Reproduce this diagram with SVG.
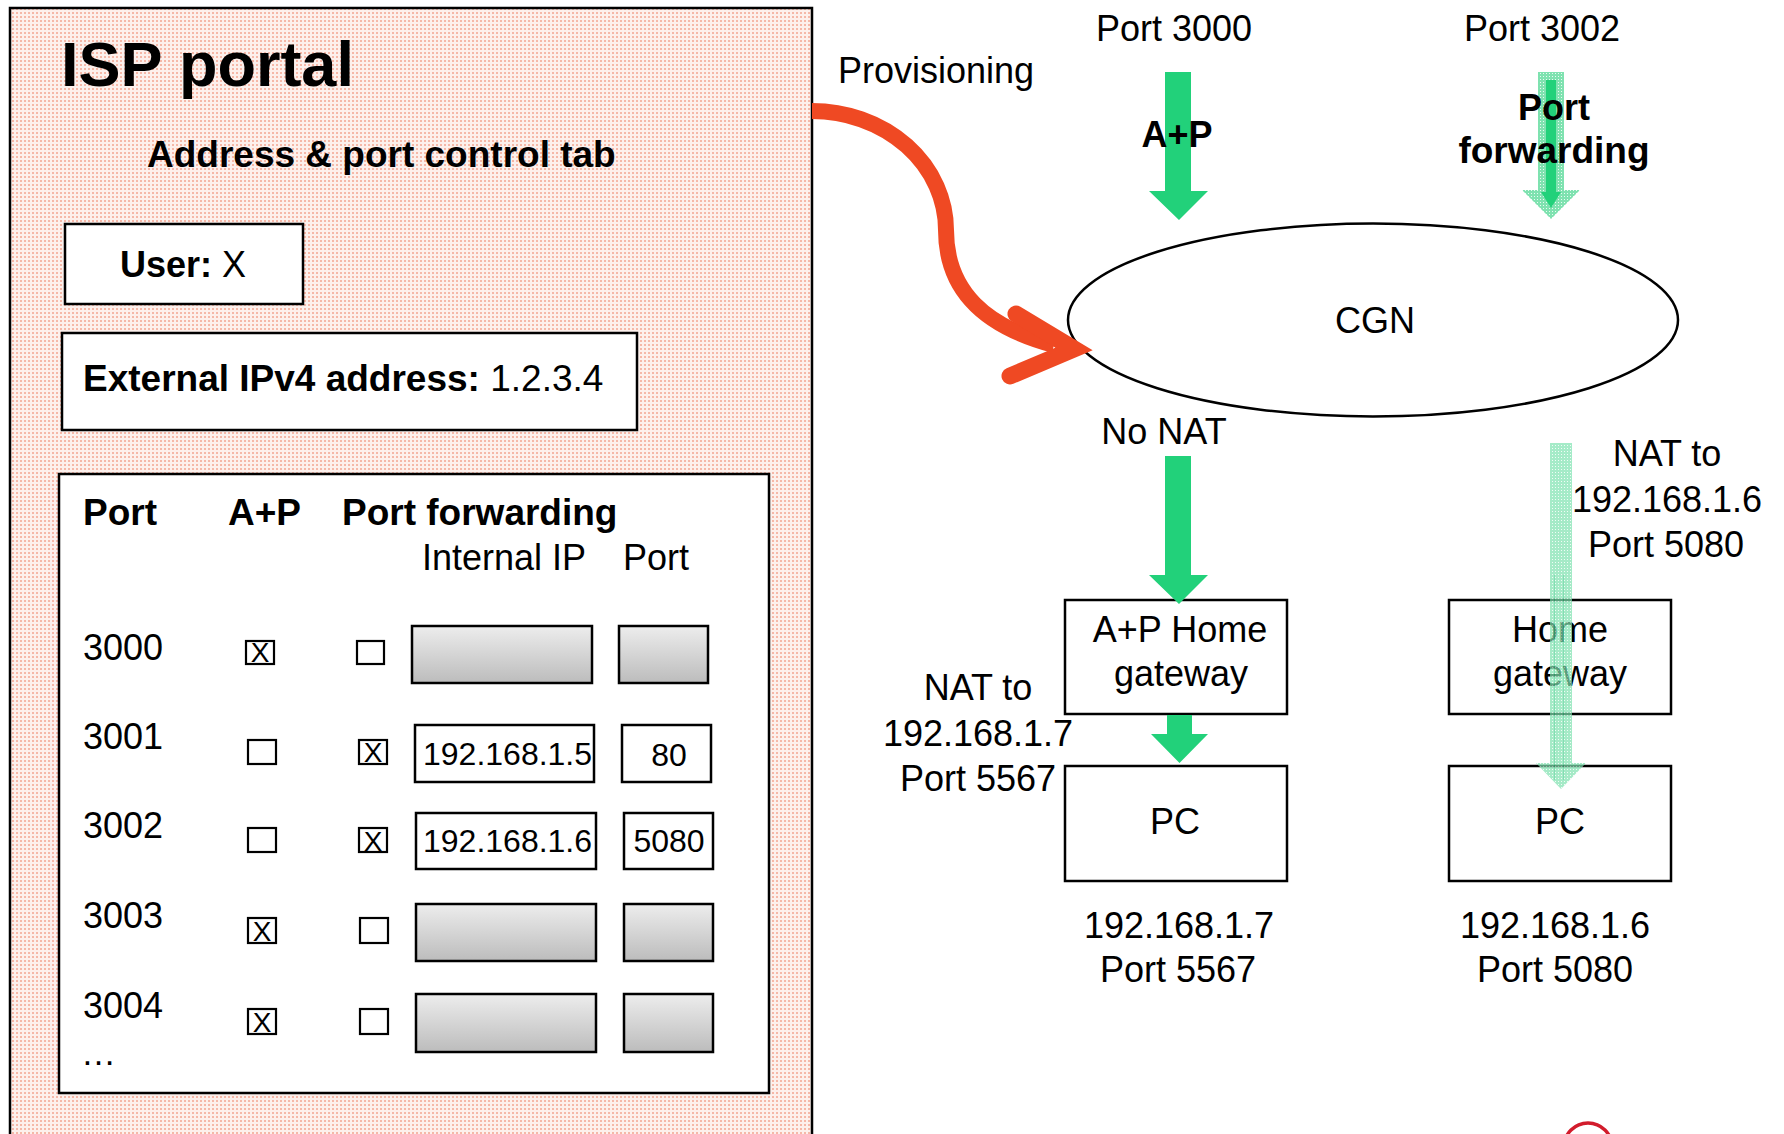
<svg xmlns="http://www.w3.org/2000/svg" width="1784" height="1134" viewBox="0 0 1784 1134">
<style>
  text { font-family: "Liberation Sans", Arial, sans-serif; fill: #000; }
  .b { font-weight: bold; }
  .t36 { font-size: 36px; }
  .t37 { font-size: 37px; }
  .val { font-size: 32px; }
  .mid { text-anchor: middle; }
  .box { fill: #fff; stroke: #000; stroke-width: 2.5; }
  .cb { fill: #fff; stroke: #000; stroke-width: 2.2; }
  .cbx { font-size: 28px; text-anchor: middle; }
  .inp { fill: url(#grayGrad); stroke: #000; stroke-width: 2.5; }
  .green { fill: #22D17A; }
  .pale { fill: url(#paleGreen); }
</style>
<defs>
  <pattern id="pinkDots" width="4" height="4" patternUnits="userSpaceOnUse">
    <rect width="4" height="4" fill="#fdf0ec"/>
    <rect width="2" height="2" fill="#f5b8a8"/>
  </pattern>
  <pattern id="paleGreen" width="3" height="3" patternUnits="userSpaceOnUse">
    <rect width="3" height="3" fill="#7fe2b0"/>
    <rect x="1" y="1" width="1" height="1" fill="#e9fbf2"/>
  </pattern>
  <linearGradient id="grayGrad" x1="0" y1="0" x2="0" y2="1">
    <stop offset="0" stop-color="#ededed"/>
    <stop offset="1" stop-color="#bcbcbc"/>
  </linearGradient>
</defs>

<rect width="1784" height="1134" fill="#fff"/>

<!-- ISP portal panel -->
<g id="portal">
  <rect x="10" y="8" width="802" height="1140" fill="url(#pinkDots)" stroke="#000" stroke-width="2.5"/>
  <text x="61" y="86" class="b" font-size="63">ISP portal</text>
  <text x="147" y="167" class="b t37">Address &amp; port control tab</text>
</g>

<g id="user-box">
  <rect x="65" y="224" width="238" height="80" class="box"/>
  <text x="120" y="277" class="t36"><tspan class="b">User:</tspan> X</text>
</g>

<g id="ext-ip-box">
  <rect x="62" y="333" width="575" height="97" class="box"/>
  <text x="83" y="391" class="t37"><tspan class="b">External IPv4 address:</tspan> 1.2.3.4</text>
</g>

<g id="port-table">
  <rect x="59" y="474" width="710" height="619" class="box"/>
  <text x="83" y="525" class="b t37">Port</text>
  <text x="228" y="525" class="b t37">A+P</text>
  <text x="342" y="525" class="b t37">Port forwarding</text>
  <text x="422" y="570" class="t36">Internal IP</text>
  <text x="623" y="570" class="t36">Port</text>

  <g id="row-3000">
    <text x="83" y="660" class="t36">3000</text>
    <rect x="246" y="641" width="28" height="23" class="cb"/>
    <text x="260" y="662" class="cbx">X</text>
    <rect x="357" y="641" width="27" height="23" class="cb"/>
    <rect x="412" y="626" width="180" height="57" class="inp"/>
    <rect x="619" y="626" width="89" height="57" class="inp"/>
  </g>
  <g id="row-3001">
    <text x="83" y="749" class="t36">3001</text>
    <rect x="248" y="740" width="28" height="24" class="cb"/>
    <rect x="359" y="740" width="28" height="24" class="cb"/>
    <text x="373" y="762" class="cbx">X</text>
    <rect x="415" y="725" width="179" height="57" class="box"/>
    <text x="423" y="765" class="val">192.168.1.5</text>
    <rect x="622" y="725" width="89" height="57" class="box"/>
    <text x="669" y="766" class="val mid">80</text>
  </g>
  <g id="row-3002">
    <text x="83" y="838" class="t36">3002</text>
    <rect x="248" y="828" width="28" height="24" class="cb"/>
    <rect x="359" y="828" width="28" height="24" class="cb"/>
    <text x="373" y="851" class="cbx">X</text>
    <rect x="416" y="813" width="180" height="56" class="box"/>
    <text x="423" y="852" class="val">192.168.1.6</text>
    <rect x="624" y="813" width="89" height="56" class="box"/>
    <text x="669" y="852" class="val mid">5080</text>
  </g>
  <g id="row-3003">
    <text x="83" y="928" class="t36">3003</text>
    <rect x="248" y="918" width="28" height="25" class="cb"/>
    <text x="262" y="941" class="cbx">X</text>
    <rect x="360" y="918" width="28" height="25" class="cb"/>
    <rect x="416" y="904" width="180" height="57" class="inp"/>
    <rect x="624" y="904" width="89" height="57" class="inp"/>
  </g>
  <g id="row-3004">
    <text x="83" y="1018" class="t36">3004</text>
    <rect x="248" y="1009" width="28" height="25" class="cb"/>
    <text x="262" y="1032" class="cbx">X</text>
    <rect x="360" y="1009" width="28" height="25" class="cb"/>
    <rect x="416" y="994" width="180" height="58" class="inp"/>
    <rect x="624" y="994" width="89" height="58" class="inp"/>
    <text x="81" y="1065" font-size="35px">…</text>
  </g>
</g>

<!-- Right side nodes -->
<g id="cgn">
  <ellipse cx="1373" cy="320" rx="305" ry="96.5" fill="#fff" stroke="#000" stroke-width="2.5"/>
  <text x="1375" y="333" class="t36 mid">CGN</text>
</g>

<g id="ap-home-gateway">
  <rect x="1065" y="600" width="222" height="114" class="box"/>
  <text x="1180" y="642" class="t36 mid">A+P Home</text>
  <text x="1181" y="686" class="t36 mid">gateway</text>
</g>

<g id="pc-left">
  <rect x="1065" y="766" width="222" height="115" class="box"/>
  <text x="1175" y="834" class="t36 mid">PC</text>
</g>

<g id="home-gateway">
  <rect x="1449" y="600" width="222" height="114" class="box"/>
  <text x="1560" y="642" class="t36 mid">Home</text>
  <text x="1560" y="686" class="t36 mid">gateway</text>
</g>

<g id="pc-right">
  <rect x="1449" y="766" width="222" height="115" class="box"/>
  <text x="1560" y="834" class="t36 mid">PC</text>
</g>

<!-- Connectors -->
<g id="connectors">
  <!-- provisioning arrow -->
  <path d="M 812 111 A 134 119 0 0 1 946 230 C 946 292 986 327 1054 345" fill="none" stroke="#EF4923" stroke-width="16"/>
  <polyline points="1016,314 1074,349 1010,376" fill="none" stroke="#EF4923" stroke-width="17" stroke-linecap="round" stroke-linejoin="miter"/>

  <!-- A+P into CGN -->
  <polygon class="green" points="1165,72 1191,72 1191,191 1208,191 1179,220 1149,191 1165,191"/>
  <!-- port forwarding into CGN -->
  <polygon class="pale" points="1538,72 1564,72 1564,190 1580,190 1551,219 1522,190 1538,190"/>
  <polygon class="green" points="1546,80 1556,80 1556,192 1561,192 1551,208 1541,192 1546,192"/>
  <!-- no NAT: CGN to A+P gateway -->
  <polygon class="green" points="1165,456 1191,456 1191,575 1208,575 1179,604 1149,575 1165,575"/>
  <!-- A+P gateway to PC -->
  <polygon class="green" points="1167,715 1192,715 1192,734 1208,734 1179.5,763 1151,734 1167,734"/>
  <!-- NAT to 192.168.1.6 through home gateway -->
  <g opacity="0.7">
    <polygon class="pale" points="1550,443 1572,443 1572,763 1586,763 1561,789 1536,763 1550,763"/>
    <line x1="1554.5" y1="575" x2="1554.5" y2="780" stroke="#4fd193" stroke-width="1"/>
    <line x1="1563.5" y1="575" x2="1563.5" y2="780" stroke="#4fd193" stroke-width="1"/>
  </g>
</g>

<!-- Labels -->
<g id="labels">
  <text x="838" y="83" class="t36">Provisioning</text>
  <text x="1174" y="41" class="t36 mid">Port 3000</text>
  <text x="1542" y="41" class="t36 mid">Port 3002</text>
  <text x="1177" y="147" class="t36 b mid">A+P</text>
  <text x="1554" y="120" class="t36 b mid">Port</text>
  <text x="1554" y="163" class="t37 b mid">forwarding</text>
  <text x="1164" y="444" class="t36 mid">No NAT</text>
  <text x="978" y="700" class="t36 mid">NAT to</text>
  <text x="978" y="746" class="t36 mid">192.168.1.7</text>
  <text x="978" y="791" class="t36 mid">Port 5567</text>
  <text x="1667" y="466" class="t36 mid">NAT to</text>
  <text x="1667" y="512" class="t36 mid">192.168.1.6</text>
  <text x="1666" y="557" class="t36 mid">Port 5080</text>
  <text x="1179" y="938" class="t36 mid">192.168.1.7</text>
  <text x="1178" y="982" class="t36 mid">Port 5567</text>
  <text x="1555" y="938" class="t36 mid">192.168.1.6</text>
  <text x="1555" y="982" class="t36 mid">Port 5080</text>
</g>

<!-- partial logo at bottom edge -->
<circle cx="1588" cy="1147" r="24" fill="none" stroke="#d21c2c" stroke-width="3.5"/>
</svg>
